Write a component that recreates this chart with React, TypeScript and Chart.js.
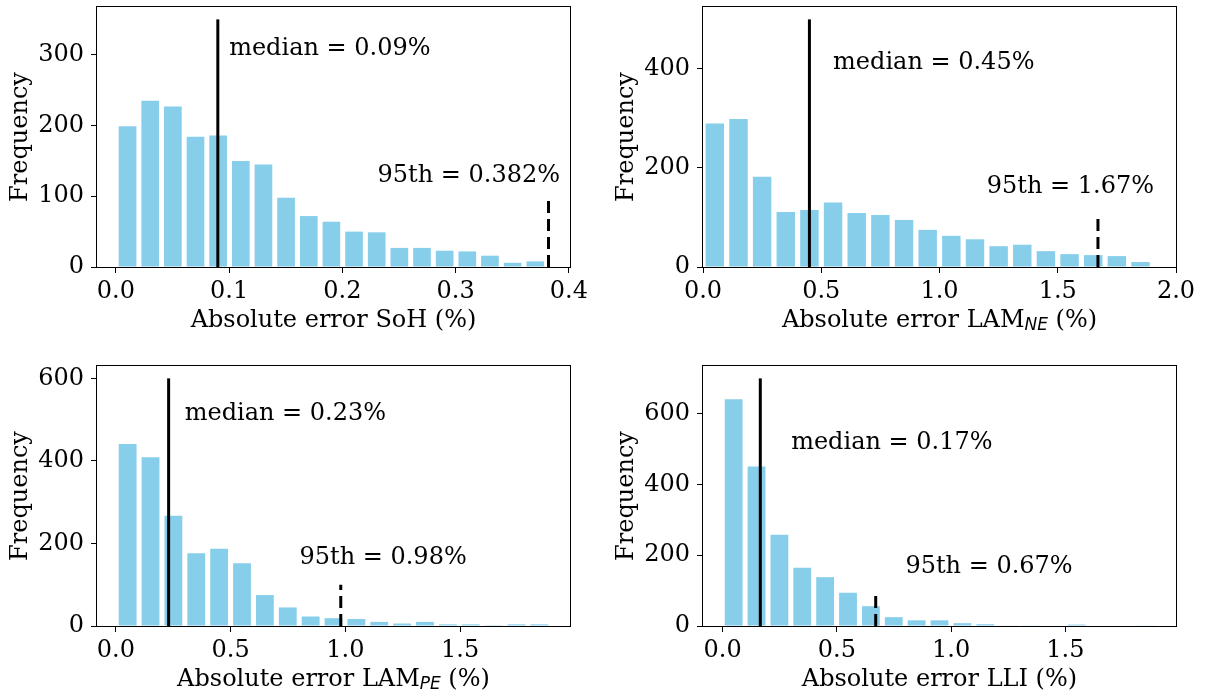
import React, { useEffect, useRef } from 'react';
import { Chart, registerables } from 'chart.js';

Chart.register(...registerables);

const FONT = '"DejaVu Serif", serif';
const BAR_COLOR = '#87CEEB';

// ---------- Panel 1: SoH ----------
const SOH_BINS = [0.0103, 0.0303, 0.0503, 0.0703, 0.0903, 0.1103, 0.1303, 0.1503, 0.1703, 0.1903, 0.2103, 0.2303, 0.2503, 0.2703, 0.2903, 0.3103, 0.3303, 0.3503, 0.3703];
const SOH_COUNTS = [199, 235, 227, 184, 186, 150, 145, 98, 72, 64, 50, 49, 27, 27, 23, 22, 16, 6, 8];
const SOH_MEDIAN = 0.09;
const SOH_P95 = 0.382;
const SOH_XTICKS = [0.0, 0.1, 0.2, 0.3, 0.4];
const SOH_YTICKS = [0, 100, 200, 300];

// ---------- Panel 2: LAM_NE ----------
const NE_BINS = [0.05, 0.15, 0.25, 0.35, 0.45, 0.55, 0.65, 0.75, 0.85, 0.95, 1.05, 1.15, 1.25, 1.35, 1.45, 1.55, 1.65, 1.75, 1.85];
const NE_COUNTS = [290, 299, 182, 111, 115, 130, 109, 105, 95, 75, 63, 56, 42, 45, 32, 26, 24, 22, 10];
const NE_MEDIAN = 0.45;
const NE_P95 = 1.67;
const NE_XTICKS = [0.0, 0.5, 1.0, 1.5, 2.0];
const NE_YTICKS = [0, 200, 400];

// ---------- Panel 3: LAM_PE ----------
const PE_BINS = [0.0515, 0.1512, 0.2508, 0.3505, 0.4501, 0.5498, 0.6494, 0.7491, 0.8487, 0.9484, 1.048, 1.1477, 1.2473, 1.347, 1.4466, 1.5463, 1.6459, 1.7456, 1.8452];
const PE_COUNTS = [441, 409, 267, 176, 187, 152, 75, 45, 23, 19, 17, 10, 6, 10, 4, 4, 2, 4, 4];
const PE_MEDIAN = 0.23;
const PE_P95 = 0.98;
const PE_XTICKS = [0.0, 0.5, 1.0, 1.5];
const PE_YTICKS = [0, 200, 400, 600];

// ---------- Panel 4: LLI ----------
const LLI_BINS = [0.0484, 0.1485, 0.2486, 0.3486, 0.4487, 0.5488, 0.6489, 0.749, 0.849, 0.9491, 1.0492, 1.1493, 1.2494, 1.3494, 1.4495, 1.5496, 1.6497, 1.7498, 1.8498];
const LLI_COUNTS = [641, 451, 258, 165, 138, 94, 56, 25, 16, 16, 8, 5, 1, 1, 0, 4, 0, 0, 1];
const LLI_MEDIAN = 0.165;
const LLI_P95 = 0.67;
const LLI_XTICKS = [0.0, 0.5, 1.0, 1.5];
const LLI_YTICKS = [0, 200, 400, 600];

// line heights (data units)
const MEDIAN_TOPS = [350, 500, 600, 700];
const P95_TOPS = [100, 100, 100, 100];

type Seg = { text: string; sub?: boolean };

type PanelCfg = {
  bins: number[];
  counts: number[];
  median: number;
  p95: number;
  medianTop: number;
  p95Top: number;
  xTicks: number[];
  yTicks: number[];
  xFixed: [number, number] | null;
  medianLabel: string;
  p95Label: string;
  medianPos: [number, number];
  p95Pos: [number, number];
  title: Seg[];
  box: { left: number; top: number; width: number; height: number; aL: number; aT: number; aR: number; aB: number };
};

const PANELS: PanelCfg[] = [
  {
    bins: SOH_BINS, counts: SOH_COUNTS, median: SOH_MEDIAN, p95: SOH_P95,
    medianTop: MEDIAN_TOPS[0], p95Top: P95_TOPS[0], xTicks: SOH_XTICKS, yTicks: SOH_YTICKS, xFixed: null,
    medianLabel: 'median = 0.09%', p95Label: '95th = 0.382%', medianPos: [0.1, 300], p95Pos: [0.231, 120],
    title: [{ text: 'Absolute error SoH (%)' }],
    box: { left: 0, top: 0, width: 600, height: 345, aL: 97, aT: 7, aR: 570, aB: 267 },
  },
  {
    bins: NE_BINS, counts: NE_COUNTS, median: NE_MEDIAN, p95: NE_P95,
    medianTop: MEDIAN_TOPS[1], p95Top: P95_TOPS[1], xTicks: NE_XTICKS, yTicks: NE_YTICKS, xFixed: [0, 2],
    medianLabel: 'median = 0.45%', p95Label: '95th = 1.67%', medianPos: [0.55, 400], p95Pos: [1.2, 150],
    title: [{ text: 'Absolute error LAM' }, { text: 'NE', sub: true }, { text: ' (%)' }],
    box: { left: 600, top: 0, width: 605, height: 345, aL: 703, aT: 7, aR: 1176, aB: 267 },
  },
  {
    bins: PE_BINS, counts: PE_COUNTS, median: PE_MEDIAN, p95: PE_P95,
    medianTop: MEDIAN_TOPS[2], p95Top: P95_TOPS[2], xTicks: PE_XTICKS, yTicks: PE_YTICKS, xFixed: null,
    medianLabel: 'median = 0.23%', p95Label: '95th = 0.98%', medianPos: [0.3, 500], p95Pos: [0.8, 150],
    title: [{ text: 'Absolute error LAM' }, { text: 'PE', sub: true }, { text: ' (%)' }],
    box: { left: 0, top: 345, width: 600, height: 352, aL: 97, aT: 366, aR: 570, aB: 626 },
  },
  {
    bins: LLI_BINS, counts: LLI_COUNTS, median: LLI_MEDIAN, p95: LLI_P95,
    medianTop: MEDIAN_TOPS[3], p95Top: P95_TOPS[3], xTicks: LLI_XTICKS, yTicks: LLI_YTICKS, xFixed: null,
    medianLabel: 'median = 0.17%', p95Label: '95th = 0.67%', medianPos: [0.3, 500], p95Pos: [0.8, 150],
    title: [{ text: 'Absolute error LLI (%)' }],
    box: { left: 600, top: 345, width: 605, height: 352, aL: 703, aT: 366, aR: 1176, aB: 626 },
  },
];

const FONT_SIZE = 24;
const MAIN_FONT = `${FONT_SIZE}px ${FONT}`;
const SUB_FONT = 'italic 17px "DejaVu Sans", sans-serif';

function HistPanel({ cfg }: { cfg: PanelCfg }) {
  const ref = useRef<HTMLCanvasElement | null>(null);

  useEffect(() => {
    const canvas = ref.current;
    if (!canvas) return;
    const b = cfg.box;
    const yAxisW = b.aL - b.left;
    const xAxisH = b.top + b.height - b.aB;
    const padTop = b.aT - b.top;
    const padRight = b.left + b.width - b.aR;

    const w = cfg.bins[1] - cfg.bins[0];
    const half = 0.4 * w;
    let xMin: number, xMax: number;
    if (cfg.xFixed) {
      [xMin, xMax] = cfg.xFixed;
    } else {
      const lo = Math.min(cfg.bins[0] - half, cfg.median, cfg.p95);
      const hi = Math.max(cfg.bins[cfg.bins.length - 1] + half, cfg.median, cfg.p95);
      const m = (hi - lo) * 0.05;
      xMin = lo - m;
      xMax = hi + m;
    }
    const yMax = Math.max(...cfg.counts, cfg.medianTop, cfg.p95Top) * 1.05;

    const decorPlugin = {
      id: 'decor',
      afterDatasetsDraw(chart: any) {
        const { ctx, chartArea: a, scales } = chart;
        const xs = scales.x;
        const ys = scales.y;
        ctx.save();
        ctx.fillStyle = '#000';
        ctx.font = MAIN_FONT;
        ctx.textAlign = 'left';
        ctx.textBaseline = 'alphabetic';
        ctx.fillText(cfg.medianLabel, xs.getPixelForValue(cfg.medianPos[0]), ys.getPixelForValue(cfg.medianPos[1]));
        ctx.fillText(cfg.p95Label, xs.getPixelForValue(cfg.p95Pos[0]), ys.getPixelForValue(cfg.p95Pos[1]));
        ctx.strokeStyle = '#000';
        ctx.lineWidth = 1;
        ctx.strokeRect(a.left - 0.5, a.top - 0.5, a.right - a.left + 1, a.bottom - a.top + 1);
        const parts = cfg.title.map((s) => {
          ctx.font = s.sub ? SUB_FONT : MAIN_FONT;
          return { ...s, w: ctx.measureText(s.text).width };
        });
        const total = parts.reduce((acc, p) => acc + p.w, 0);
        let x = (a.left + a.right) / 2 - total / 2;
        const baseY = a.bottom + 60;
        for (const p of parts) {
          ctx.font = p.sub ? SUB_FONT : MAIN_FONT;
          ctx.fillText(p.text, x, p.sub ? baseY + 3 : baseY);
          x += p.w;
        }
        ctx.font = MAIN_FONT;
        ctx.translate(a.left - 70.5, (a.top + a.bottom) / 2);
        ctx.rotate(-Math.PI / 2);
        ctx.textAlign = 'center';
        ctx.fillText('Frequency', 0, 0);
        ctx.restore();
      },
    };

    const chart = new Chart(canvas, {
      type: 'bar',
      data: {
        datasets: [
          {
            type: 'line',
            data: [{ x: cfg.median, y: 0 }, { x: cfg.median, y: cfg.medianTop }],
            borderColor: '#000',
            borderWidth: 3,
            pointRadius: 0,
            order: 0,
          } as any,
          {
            type: 'line',
            data: [{ x: cfg.p95, y: 0 }, { x: cfg.p95, y: cfg.p95Top }],
            borderColor: '#000',
            borderWidth: 3,
            borderDash: [12, 6],
            pointRadius: 0,
            order: 0,
          } as any,
          {
            type: 'bar',
            data: cfg.bins.map((c, i) => ({ x: c, y: cfg.counts[i] })),
            backgroundColor: BAR_COLOR,
            borderWidth: 0,
            barPercentage: 0.78,
            categoryPercentage: 1,
            order: 1,
          } as any,
        ],
      },
      options: {
        animation: false,
        responsive: false,
        devicePixelRatio: 1,
        events: [],
        layout: { padding: { left: 0, top: padTop, right: padRight, bottom: 0 } },
        plugins: { legend: { display: false }, tooltip: { enabled: false } },
        scales: {
          x: {
            type: 'linear',
            min: xMin,
            max: xMax,
            offset: false,
            grid: { display: true, offset: false, drawOnChartArea: false, drawTicks: true, tickLength: 6, color: '#000', lineWidth: 1 },
            border: { display: false },
            ticks: {
              color: '#000',
              font: { family: FONT, size: FONT_SIZE },
              padding: 4,
              maxRotation: 0,
              autoSkip: false,
              callback: (v: any) => Number(v).toFixed(1),
            },
            afterBuildTicks: (s: any) => { s.ticks = cfg.xTicks.map((v) => ({ value: v })); },
            afterFit: (s: any) => { s.height = xAxisH; s.paddingLeft = 0; s.paddingRight = 0; },
          } as any,
          y: {
            type: 'linear',
            min: 0,
            max: yMax,
            grid: { display: true, drawOnChartArea: false, drawTicks: true, tickLength: 6, color: '#000', lineWidth: 1 },
            border: { display: false },
            ticks: {
              color: '#000',
              font: { family: FONT, size: FONT_SIZE },
              padding: 7,
              autoSkip: false,
              callback: (v: any) => String(Math.round(Number(v))),
            },
            afterBuildTicks: (s: any) => { s.ticks = cfg.yTicks.map((v) => ({ value: v })); },
            afterFit: (s: any) => { s.width = yAxisW; s.paddingTop = 0; s.paddingBottom = 0; },
          } as any,
        },
      },
      plugins: [decorPlugin],
    });
    return () => chart.destroy();
  }, [cfg]);

  const b = cfg.box;
  return (
    <canvas
      ref={ref}
      width={b.width}
      height={b.height}
      style={{ position: 'absolute', left: b.left, top: b.top, width: b.width, height: b.height }}
    />
  );
}

export default function App() {
  return (
    <div style={{ position: 'absolute', left: 0, top: 0, width: 1205, height: 697, background: '#fff' }}>
      {PANELS.map((p, i) => (
        <HistPanel key={i} cfg={p} />
      ))}
    </div>
  );
}
